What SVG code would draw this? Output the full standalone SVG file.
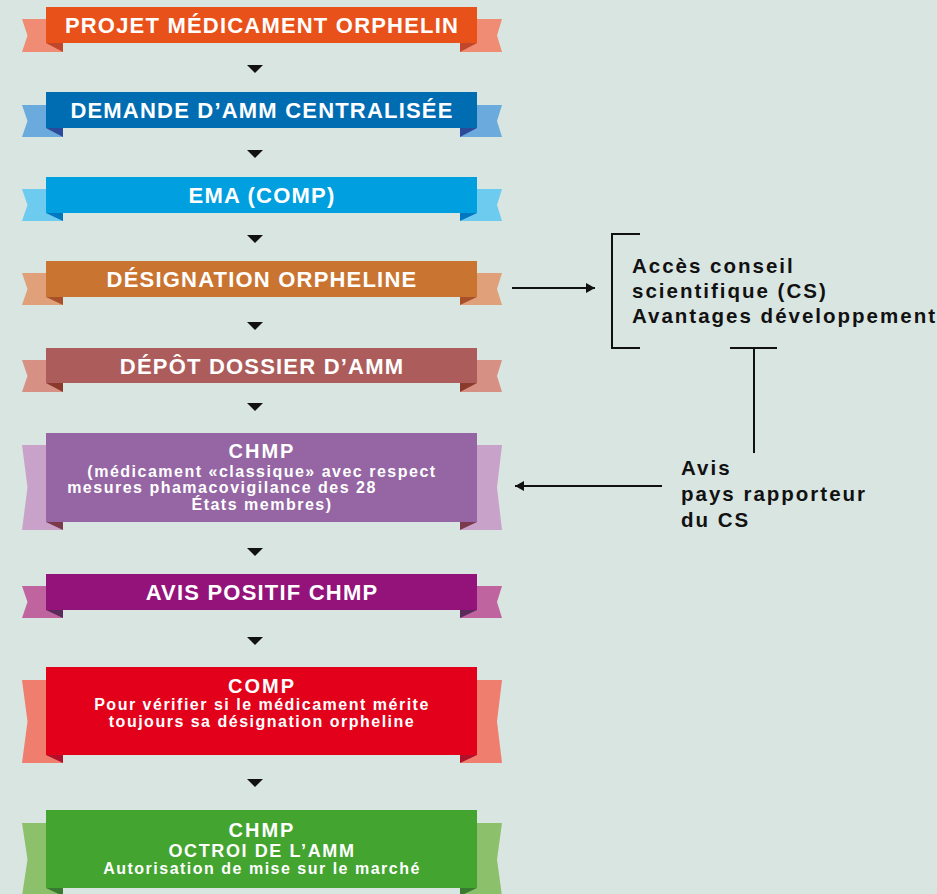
<svg xmlns="http://www.w3.org/2000/svg" width="937" height="894" viewBox="0 0 937 894">
<defs>
<style>
.t{font-family:"Liberation Sans",Arial,sans-serif;font-weight:bold;fill:#fff;text-anchor:middle}
.h{font-size:22px;letter-spacing:1.2px}
.c{font-size:20px;letter-spacing:2px}
.s{font-size:16px;letter-spacing:1.5px}
.k{font-family:"Liberation Sans",Arial,sans-serif;font-weight:bold;fill:#111;font-size:20.5px;letter-spacing:2px}
.ln{stroke:#111;stroke-width:2;fill:none}
.dn{fill:#111}
</style>
<marker id="ah" markerWidth="9" markerHeight="10" refX="9" refY="5" orient="auto" markerUnits="userSpaceOnUse">
<path d="M0,0 L9,5 L0,10 z" fill="#111"/>
</marker>
</defs>
<rect width="937" height="894" fill="#d9e5e1"/>

<g id="n1">
<polygon points="22,19 63,19 63,52 22,52 27.5,35.5" fill="#ef8c73"/>
<polygon points="460,19 502,19 497,35.5 502,52 460,52" fill="#ef8c73"/>
<polygon points="46,43 63,43 63,52" fill="#c2462a"/>
<polygon points="477,43 460,43 460,52" fill="#c2462a"/>
<rect x="46" y="7" width="431" height="36" fill="#e9511a"/>
<text class="t h" x="262" y="33">PROJET MÉDICAMENT ORPHELIN</text>
</g>

<g id="n2">
<polygon points="22,105 63,105 63,137 22,137 27.5,121" fill="#6aaadc"/>
<polygon points="460,105 502,105 497,121 502,137 460,137" fill="#6aaadc"/>
<polygon points="46,128 63,128 63,137" fill="#2d4a9a"/>
<polygon points="477,128 460,128 460,137" fill="#2d4a9a"/>
<rect x="46" y="92" width="431" height="36" fill="#006db3"/>
<text class="t h" x="262" y="118">DEMANDE D’AMM CENTRALISÉE</text>
</g>

<g id="n3">
<polygon points="22,189 63,189 63,221 22,221 27.5,205" fill="#6ccbef"/>
<polygon points="460,189 502,189 497,205 502,221 460,221" fill="#6ccbef"/>
<polygon points="46,213 63,213 63,221" fill="#0078c0"/>
<polygon points="477,213 460,213 460,221" fill="#0078c0"/>
<rect x="46" y="177" width="431" height="36" fill="#009fe0"/>
<text class="t h" x="262" y="203">EMA (COMP)</text>
</g>

<g id="n4">
<polygon points="22,273 63,273 63,305 22,305 27.5,289" fill="#dfa07a"/>
<polygon points="460,273 502,273 497,289 502,305 460,305" fill="#dfa07a"/>
<polygon points="46,297 63,297 63,305" fill="#a8502a"/>
<polygon points="477,297 460,297 460,305" fill="#a8502a"/>
<rect x="46" y="261" width="431" height="36" fill="#c97431"/>
<text class="t h" x="262" y="287">DÉSIGNATION ORPHELINE</text>
</g>

<g id="n5">
<polygon points="22,360 63,360 63,392 22,392 27.5,376" fill="#d69084"/>
<polygon points="460,360 502,360 497,376 502,392 460,392" fill="#d69084"/>
<polygon points="46,383 63,383 63,392" fill="#8a3a2a"/>
<polygon points="477,383 460,383 460,392" fill="#8a3a2a"/>
<rect x="46" y="348" width="431" height="35" fill="#ad5c5c"/>
<text class="t h" x="262" y="373.5">DÉPÔT DOSSIER D’AMM</text>
</g>

<g id="n6">
<polygon points="22,445 63,445 63,530 22,530 27.5,487.5" fill="#c9a2c9"/>
<polygon points="460,445 502,445 497,487.5 502,530 460,530" fill="#c9a2c9"/>
<polygon points="46,522 63,522 63,530" fill="#7a3a4c"/>
<polygon points="477,522 460,522 460,530" fill="#7a3a4c"/>
<rect x="46" y="433" width="431" height="89" fill="#9566a3"/>
<text class="t c" x="262" y="458">CHMP</text>
<text class="t s" x="262" y="477">(médicament «classique» avec respect</text>
<text class="t s" x="222" y="493">mesures phamacovigilance des 28</text>
<text class="t s" x="262" y="510">États membres)</text>
</g>

<g id="n7">
<polygon points="22,586 63,586 63,618 22,618 27.5,602" fill="#c064a0"/>
<polygon points="460,586 502,586 497,602 502,618 460,618" fill="#c064a0"/>
<polygon points="46,610 63,610 63,618" fill="#5a2a5a"/>
<polygon points="477,610 460,610 460,618" fill="#5a2a5a"/>
<rect x="46" y="574" width="431" height="36" fill="#93137a"/>
<text class="t h" x="262" y="600">AVIS POSITIF CHMP</text>
</g>

<g id="n8">
<polygon points="22,680 63,680 63,763 22,763 27.5,721.5" fill="#ef7e6e"/>
<polygon points="460,680 502,680 497,721.5 502,763 460,763" fill="#ef7e6e"/>
<polygon points="46,755 63,755 63,763" fill="#b0102a"/>
<polygon points="477,755 460,755 460,763" fill="#b0102a"/>
<rect x="46" y="667" width="431" height="88" fill="#e2001a"/>
<text class="t c" x="262" y="693">COMP</text>
<text class="t s" x="262" y="710">Pour vérifier si le médicament mérite</text>
<text class="t s" x="262" y="727">toujours sa désignation orpheline</text>
</g>

<g id="n9">
<polygon points="22,823 63,823 63,896 22,896 27.5,859.5" fill="#8dc06b"/>
<polygon points="460,823 502,823 497,859.5 502,896 460,896" fill="#8dc06b"/>
<polygon points="46,888 63,888 63,896" fill="#3a7a30"/>
<polygon points="477,888 460,888 460,896" fill="#3a7a30"/>
<rect x="46" y="810" width="431" height="78" fill="#43a52f"/>
<text class="t c" x="262" y="837">CHMP</text>
<text class="t" style="font-size:18px;letter-spacing:1.6px" x="262" y="857">OCTROI DE L’AMM</text>
<text class="t s" x="262" y="874">Autorisation de mise sur le marché</text>
</g>

<g id="cs">
<path class="ln" d="M640,234 H612 V348 H640"/>
<text class="k" x="632" y="273">Accès conseil</text>
<text class="k" x="632" y="298">scientifique (CS)</text>
<text class="k" x="632" y="323">Avantages développement</text>
</g>

<g id="avis">
<text class="k" x="681" y="475">Avis</text>
<text class="k" x="681" y="501">pays rapporteur</text>
<text class="k" x="681" y="527">du CS</text>
</g>

<g id="connectors">
<polygon class="dn" points="247,65 263,65 255,73"/>
<polygon class="dn" points="247,150 263,150 255,158"/>
<polygon class="dn" points="247,235 263,235 255,243"/>
<polygon class="dn" points="247,322 263,322 255,330"/>
<polygon class="dn" points="247,403 263,403 255,411"/>
<polygon class="dn" points="247,548 263,548 255,556"/>
<polygon class="dn" points="247,637 263,637 255,645"/>
<polygon class="dn" points="247,779 263,779 255,787"/>
<line class="ln" x1="512" y1="288" x2="595" y2="288" marker-end="url(#ah)"/>
<path class="ln" d="M730,348 H777 M754,348 V453"/>
<line class="ln" x1="662" y1="486" x2="515" y2="486" marker-end="url(#ah)"/>
</g>
</svg>
